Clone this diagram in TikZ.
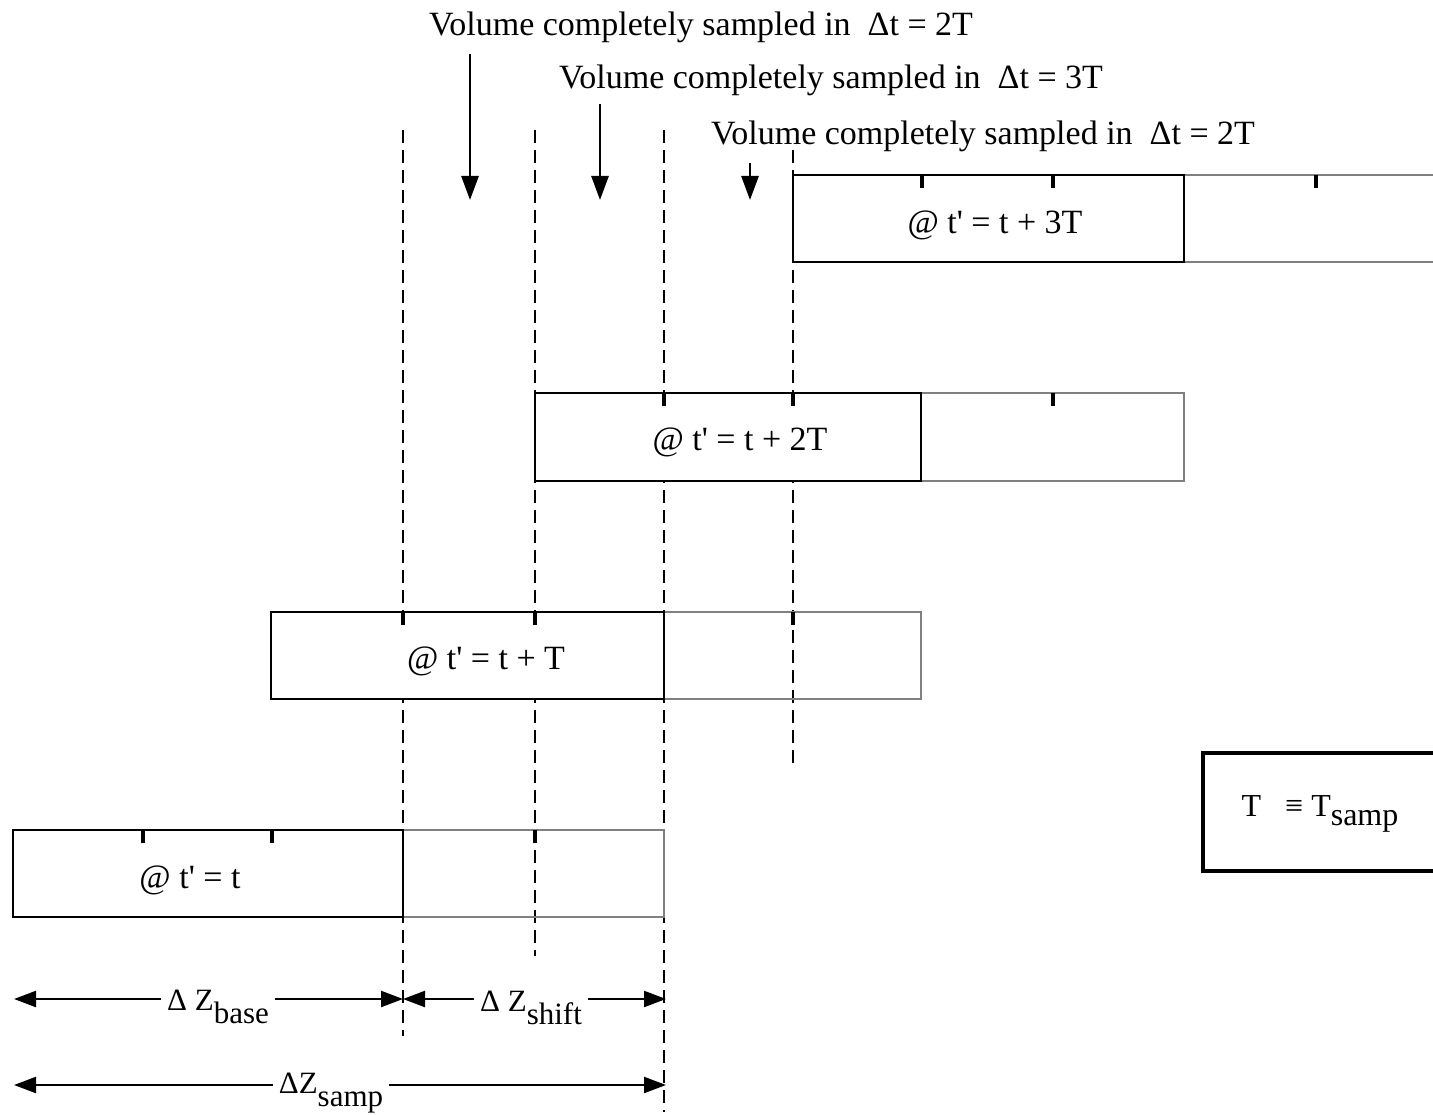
\documentclass[tikz,border=0pt]{standalone}
\usepackage{fontspec}
\setmainfont{Liberation Serif}
\usetikzlibrary{arrows.meta}
% lowered subscript set in text size
\newcommand\lowsub[2][0.42em]{\raisebox{-#1}{#2}}
\begin{document}
\begin{tikzpicture}[x=1pt,y=-1pt,
  solidbox/.style={draw=black,fill=white,line width=2.9pt},
  faintbox/.style={draw=black!50,line width=1.6pt},
  guide/.style={draw=black,line width=2.8pt,dash pattern=on 13pt off 7pt},
  tickmark/.style={draw=black,line width=4pt},
  downarrow/.style={draw=black,line width=2.8pt,-{Triangle[length=24pt,width=17pt]}},
  dimarrow/.style={draw=black,line width=2.3pt,{Triangle[length=22pt,width=16pt]}-{Triangle[length=22pt,width=16pt]}},
  lbl/.style={font=\fontsize{34}{40}\selectfont,inner sep=0pt},
  dimlbl/.style={font=\fontsize{31}{36}\selectfont,fill=white,inner xsep=6pt,inner ysep=0pt},
]
\useasboundingbox (0,0) rectangle (1433,1115);

% dashed guide lines
\coordinate (g1t) at (403,130);  \coordinate (g1b) at (403,1036);
\coordinate (g2t) at (535,130);  \coordinate (g2b) at (535,956);
\coordinate (g3t) at (664,130);  \coordinate (g3b) at (664,1112);
\coordinate (g4t) at (793,150);  \coordinate (g4b) at (793,766);
\draw[guide] (g1t) -- (g1b);
\draw[guide] (g2t) -- (g2b);
\draw[guide] (g3t) -- (g3b);
\draw[guide] (g4t) -- (g4b);

% sample volume at t' = t
\draw[faintbox] (403,830) rectangle (664,917);
\draw[solidbox] (13,830) rectangle (403,917);
\foreach \x in {143,272,535} \draw[tickmark] (\x,830) -- ++(0,13);
\node[lbl] (s0) at (190,880) {@ t\textquotesingle{} = t};

% sample volume at t' = t + T
\draw[faintbox] (664,612) rectangle (921,699);
\draw[solidbox] (271,612) rectangle (664,699);
\foreach \x in {403,535,793} \draw[tickmark] (\x,612) -- ++(0,13);
\node[lbl] (s1) at (486,661) {@ t\textquotesingle{} = t + T};

% sample volume at t' = t + 2T
\draw[faintbox] (921,393) rectangle (1184,481);
\draw[solidbox] (535,393) rectangle (921,481);
\foreach \x in {664,793,1053} \draw[tickmark] (\x,393) -- ++(0,13);
\node[lbl] (s2) at (740,442) {@ t\textquotesingle{} = t + 2T};

% sample volume at t' = t + 3T
\draw[faintbox] (1184,175) -- (1433,175) (1184,262) -- (1433,262);
\draw[solidbox] (793,175) rectangle (1184,262);
\foreach \x in {922,1053,1316} \draw[tickmark] (\x,175) -- ++(0,13);
\node[lbl] (s3) at (995,225) {@ t\textquotesingle{} = t + 3T};

% completion annotations
\node[lbl,anchor=base west] (v1) at (429,36) {Volume completely sampled in\ \ Δt = 2T};
\node[lbl,anchor=base west] (v2) at (559,89) {Volume completely sampled in\ \ Δt = 3T};
\node[lbl,anchor=base west] (v3) at (711,145) {Volume completely sampled in\ \ Δt = 2T};
\coordinate (a1s) at (470,54);  \coordinate (a1e) at (470,200);
\coordinate (a2s) at (600,104); \coordinate (a2e) at (600,200);
\coordinate (a3s) at (750,163); \coordinate (a3e) at (750,200);
\draw[downarrow] (a1s) -- (a1e);
\draw[downarrow] (a2s) -- (a2e);
\draw[downarrow] (a3s) -- (a3e);

% dimensions
\coordinate (d1l) at (14,999);  \coordinate (d1m) at (403,999); \coordinate (d1r) at (666,999);
\coordinate (d2l) at (14,1085); \coordinate (d2r) at (666,1085);
\draw[dimarrow] (d1l) -- (d1m);
\draw[dimarrow] (d1m) -- (d1r);
\draw[dimarrow] (d2l) -- (d2r);
\node[dimlbl] (zb) at (218,1007) {Δ Z\lowsub{base}};
\node[dimlbl] (zs) at (531,1008) {Δ Z\lowsub{shift}};
\node[dimlbl] (zp) at (331,1093) {ΔZ\lowsub{samp}};

% legend
\draw[black,line width=4pt] (1433,753) -- (1203,753) -- (1203,871) -- (1433,871);
\node[lbl,font=\fontsize{32}{38}\selectfont] (leg) at (1320,814) {T\ \ \ ≡ T\lowsub[0.3em]{samp}};
\end{tikzpicture}
\end{document}
